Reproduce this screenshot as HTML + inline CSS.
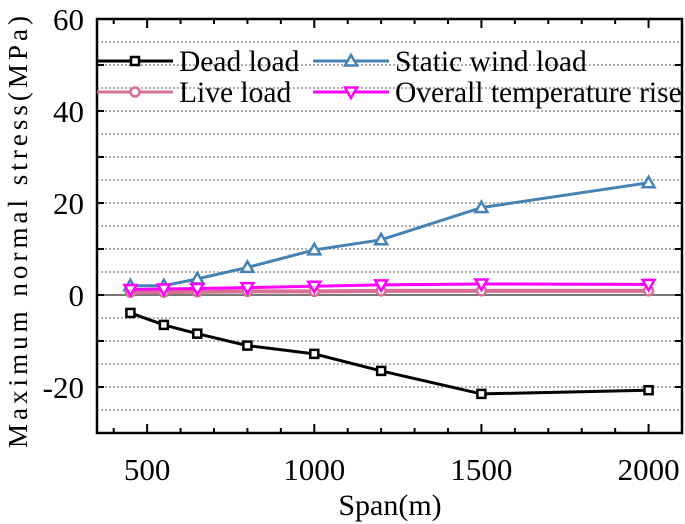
<!DOCTYPE html>
<html><head><meta charset="utf-8"><style>
body{margin:0;background:#fff}
svg{display:block}
svg text{font-family:"Liberation Serif","Times New Roman",Times,serif;fill:#000}
</style></head><body>
<svg id="c" width="685" height="524" font-family="Liberation Serif, Times New Roman, serif"></svg>
<script>
const spans=[450,550,650,800,1000,1200,1500,2000];
const deadLoad=[-3.9,-6.5,-8.4,-11,-12.8,-16.5,-21.5,-20.7];
const windLoad=[2,2,3.5,6,9.8,12,19,24.4];
const liveLoad=[0.6,0.6,0.7,0.8,0.8,0.9,0.9,0.9];
const tempRise=[1.2,1.3,1.4,1.6,1.9,2.2,2.4,2.3];
const xTicks=[500,1000,1500,2000];
const yTicks=[-20,0,20,40,60];
const NS="http://www.w3.org/2000/svg";
const svg=document.getElementById('c');
const L=97,R=682,T=19,B=433;
const x=v=>L+(v-350)/1750*(R-L);
const y=v=>B-(v+30)/90*(B-T);
function el(t,a,p){const e=document.createElementNS(NS,t);for(const k in a)e.setAttribute(k,a[k]);(p||svg).appendChild(e);return e;}
for(let v=-25;v<60;v+=5){if(v===0)continue;
const g=el('line',{x1:L,x2:R,y1:y(v),y2:y(v),stroke:'#b0b0b0','stroke-width':2,'stroke-dasharray':'2,2'});

}
const z=el('line',{x1:L,x2:R,y1:y(0),y2:y(0),stroke:'#777','stroke-width':2});


for(let v=400;v<=2000;v+=100){const maj=v%500===0;
el('line',{x1:x(v),x2:x(v),y1:B,y2:B-(maj?9:5),stroke:'#000','stroke-width':2});
el('line',{x1:x(v),x2:x(v),y1:T,y2:T+(maj?9:5),stroke:'#000','stroke-width':2});}
for(let v=-30;v<=60;v+=10){
el('line',{x1:L,x2:L+7,y1:y(v),y2:y(v),stroke:'#000','stroke-width':2});
el('line',{x1:R,x2:R-7,y1:y(v),y2:y(v),stroke:'#000','stroke-width':2});}
xTicks.forEach(v=>{const t=el('text',{x:x(v),y:480,'font-size':31,'text-anchor':'middle'});t.textContent=v;

});
yTicks.forEach(v=>{const t=el('text',{x:84,y:y(v)+11,'font-size':31,'text-anchor':'end'});t.textContent=v;

});
function marker(type,cx,cy,col,g){
if(type==='sq')el('rect',{x:cx-4,y:cy-4,width:8,height:8,fill:'#fff',stroke:col,'stroke-width':2.5},g);
if(type==='ci')el('circle',{cx,cy,r:4.5,fill:'#fff',stroke:col,'stroke-width':2.5},g);
if(type==='up')el('polygon',{points:`${cx},${cy-6} ${cx-6},${cy+4.5} ${cx+6},${cy+4.5}`,fill:'#fff',stroke:col,'stroke-width':2.5},g);
if(type==='dn')el('polygon',{points:`${cx},${cy+6} ${cx-6},${cy-4.5} ${cx+6},${cy-4.5}`,fill:'#fff',stroke:col,'stroke-width':2.5},g);}
function series(vals,col,type,name,w){
const g=el('g',{});


el('polyline',{points:spans.map((s,i)=>x(s)+','+y(vals[i])).join(' '),fill:'none',stroke:col,'stroke-width':w},g);
spans.forEach((s,i)=>marker(type,x(s),y(vals[i]),col,g));}
series(deadLoad,'#000','sq','dead-load-series',3);
series(windLoad,'#4682b4','up','static-wind-load-series',3);
series(liveLoad,'#d87093','ci','live-load-series',4);
series(tempRise,'#ff00ff','dn','temperature-rise-series',3);
const f=el('rect',{x:L,y:T,width:R-L,height:B-T,fill:'none',stroke:'#000','stroke-width':2.5});


const leg=[[97,61,'#000','sq','Dead load'],[313,61,'#4682b4','up','Static wind load'],[97,92,'#d87093','ci','Live load'],[313,92,'#ff00ff','dn','Overall temperature rise']];
leg.forEach(l=>{const g=el('g',{});


el('line',{x1:l[0],x2:l[0]+76,y1:l[1],y2:l[1],stroke:l[2],'stroke-width':3},g);
marker(l[3],l[0]+38,l[1],l[2],g);
const t=el('text',{x:l[0]+82,y:l[1]+10,'font-size':29.5},g);t.textContent=l[4];});
const xt=el('text',{x:390,y:515,'font-size':30,'text-anchor':'middle'});xt.textContent='Span(m)';


const yt=el('text',{x:0,y:0,'font-size':27,'text-anchor':'middle',textLength:432,lengthAdjust:'spacing',transform:'translate(27,232) rotate(-90)'});yt.textContent='Maximum normal stress(MPa)';


</script>
</body></html>
